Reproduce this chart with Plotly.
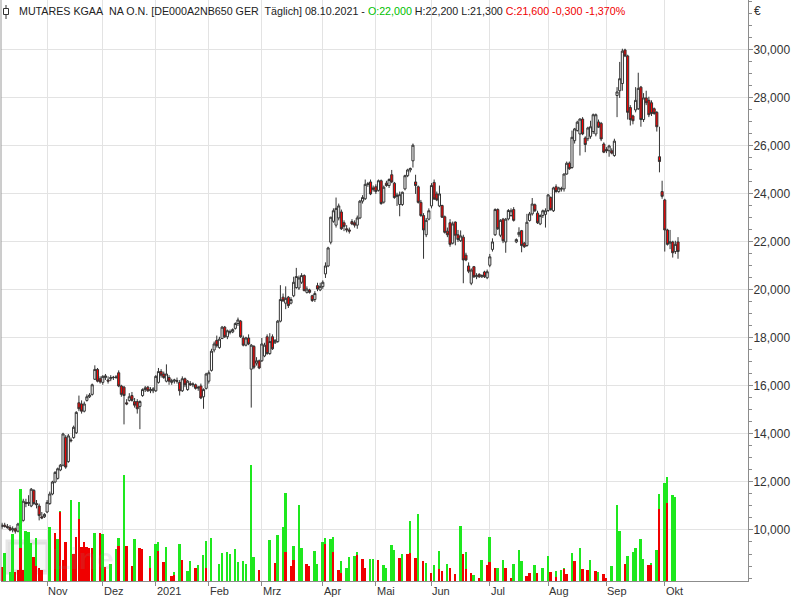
import pandas as pd
import plotly.graph_objects as go

holidays = ["2020-12-24", "2020-12-25", "2020-12-31", "2021-01-01", "2021-04-02", "2021-04-05"]
dates = pd.bdate_range("2020-10-08", "2021-10-08", freq="C", holidays=holidays).strftime("%Y-%m-%d").tolist()

opens = [
    10.15, 10.20, 10.15, 10.10, 10.00, 10.05, 9.95, 10.30, 10.40, 11.15, 11.10, 11.00, 11.65, 11.10, 11.00, 10.55, 10.55,
    10.75, 11.10, 11.50, 12.00, 12.15, 12.50, 12.70, 13.85, 12.85, 13.75, 13.85, 14.05, 15.30, 15.25, 14.95, 15.40, 15.55, 15.65, 16.28, 16.69, 16.30,
    16.15, 16.35, 16.25, 16.30, 16.35, 16.35, 16.55, 16.00, 15.95, 15.30, 15.40, 15.60, 15.35, 15.35, 15.15, 15.60, 15.85, 15.95, 15.80, 15.80,
    15.80, 16.15, 16.60, 16.50, 16.20, 16.35, 16.15, 16.20, 16.22, 16.15, 15.80, 16.30, 15.85, 16.10, 16.05, 16.05, 15.95, 16.00, 15.55, 15.90,
    16.20, 16.65, 17.50, 17.90, 17.60, 17.98, 18.45, 18.05, 18.25, 18.25, 18.40, 18.60, 18.70, 18.00, 17.70, 18.00, 16.70, 17.65, 16.95, 17.05,
    17.05, 17.25, 18.05, 17.35, 18.05, 17.80, 17.85, 18.70, 19.70, 19.45, 19.70, 19.45, 19.76, 20.10, 20.08, 20.32, 20.60, 19.90, 20.00, 19.76, 19.60, 20.18, 20.00,
    20.14, 20.67, 21.00, 21.99, 22.86, 22.70, 23.00, 23.25, 22.80, 22.55, 22.50, 22.85, 22.80, 22.70, 23.00, 23.70, 23.80, 24.40, 24.50, 24.25,
    24.30, 24.15, 24.55, 23.66, 24.45, 24.35, 24.80, 24.45, 23.90, 23.56, 23.56, 24.21, 24.76, 25.00, 25.38, 24.50, 24.30, 23.65, 23.10, 22.30, 22.95,
    23.50, 24.48, 24.00, 23.50, 23.52, 23.05, 22.45, 22.80, 21.95, 22.83, 22.30, 22.05, 22.20, 21.45, 21.00, 20.28, 20.97, 20.55, 20.65, 20.55, 20.75, 20.51,
    21.03, 21.69, 22.30, 23.35, 22.28, 22.95, 22.00, 22.96, 23.10, 23.35, 22.00, 22.30, 22.47, 21.95, 21.85, 22.89, 23.17, 23.55, 23.20, 22.75, 23.10, 23.15,
    23.31, 23.85, 23.30, 24.30, 24.10, 24.20, 24.21, 24.83, 25.28, 25.10, 26.22, 26.64, 26.50, 27.12, 26.33, 26.30, 26.40, 26.60, 26.50, 27.00, 26.94, 26.08,
    25.85, 25.80, 25.80, 25.60, 28.10, 28.30, 28.60, 30.00, 29.75, 27.60, 27.25, 27.50, 27.55, 28.45, 27.10, 28.00, 27.90, 27.80, 27.55, 27.40, 25.55, 24.10,
    23.75, 22.50, 21.95, 22.00, 21.60, 22.00,
]
highs = [
    10.30, 10.30, 10.25, 10.20, 10.15, 10.10, 10.30, 10.60, 11.30, 11.30, 11.45, 11.75, 11.70, 11.25, 11.10, 10.75, 10.70,
    11.25, 11.60, 12.05, 12.45, 12.60, 12.75, 14.05, 13.95, 14.00, 13.85, 14.35, 14.95, 15.60, 15.40, 15.35, 15.65, 15.70, 16.10, 16.86, 16.75, 16.40,
    16.45, 16.50, 16.40, 16.45, 16.42, 16.45, 16.65, 16.05, 16.00, 15.45, 15.70, 15.75, 15.50, 15.45, 15.40, 15.90, 16.00, 16.00, 15.95, 15.95,
    16.45, 16.75, 16.70, 16.60, 16.90, 16.45, 16.30, 16.30, 16.35, 16.25, 16.40, 16.35, 16.25, 16.20, 16.15, 16.10, 16.00, 16.10, 15.90, 16.55,
    16.65, 17.55, 17.85, 18.10, 18.05, 18.50, 18.50, 18.35, 18.35, 18.40, 18.65, 18.85, 18.75, 18.10, 18.05, 18.15, 17.75, 17.70, 17.20, 17.10,
    18.00, 17.80, 18.15, 18.20, 18.15, 17.95, 18.75, 20.20, 19.85, 20.15, 19.75, 19.70, 20.55, 20.92, 20.60, 20.70, 20.65, 20.15, 20.05, 19.80, 19.95, 20.30, 20.30,
    20.40, 21.15, 21.80, 23.05, 23.40, 23.85, 23.60, 23.35, 22.90, 22.70, 22.60, 22.95, 22.90, 23.10, 23.75, 23.95, 24.60, 24.50, 24.60, 24.35,
    24.40, 24.60, 24.60, 24.35, 24.55, 24.65, 25.00, 24.50, 24.05, 24.10, 24.10, 24.80, 25.05, 25.10, 26.10, 24.80, 24.35, 23.75, 23.20, 23.00, 23.40,
    24.45, 24.60, 24.10, 24.35, 23.55, 23.10, 22.60, 22.95, 22.85, 22.85, 22.50, 22.48, 22.30, 21.55, 21.15, 20.90, 21.00, 20.70, 20.70, 20.65, 20.80, 20.85,
    21.50, 22.15, 23.40, 23.40, 22.95, 23.00, 23.00, 23.37, 23.40, 23.45, 22.15, 22.61, 22.50, 22.00, 23.17, 23.25, 23.83, 23.60, 23.30, 23.15, 23.35, 23.40,
    24.00, 23.90, 24.30, 24.40, 24.30, 24.30, 24.85, 25.35, 25.35, 26.64, 26.75, 27.05, 27.15, 27.20, 26.40, 26.80, 27.05, 27.35, 27.35, 27.10, 27.00, 26.15,
    25.95, 26.05, 25.90, 26.30, 28.45, 29.50, 30.05, 30.05, 29.80, 27.70, 27.30, 28.45, 29.05, 28.50, 28.20, 28.30, 28.05, 27.90, 27.60, 27.45, 26.80, 24.55,
    23.80, 22.55, 22.50, 22.05, 22.05, 22.20,
]
lows = [
    10.05, 10.10, 10.05, 9.95, 9.90, 9.85, 9.90, 10.25, 10.35, 10.95, 11.00, 10.95, 11.05, 10.90, 10.40, 10.45, 10.50,
    10.70, 11.05, 11.45, 11.95, 12.10, 12.45, 12.65, 12.55, 12.80, 13.65, 13.80, 14.00, 14.95, 14.85, 14.90, 15.35, 15.50, 15.60, 16.25, 16.15, 16.10,
    16.05, 16.25, 16.10, 16.20, 16.25, 16.30, 15.95, 15.55, 14.40, 15.20, 15.35, 15.35, 15.10, 14.85, 14.20, 15.55, 15.75, 15.75, 15.70, 15.70,
    15.75, 16.10, 16.35, 16.30, 16.15, 16.05, 16.05, 16.10, 16.10, 15.60, 15.75, 15.95, 15.80, 16.00, 15.95, 15.85, 15.80, 15.45, 15.05, 15.85,
    16.10, 16.60, 17.40, 17.60, 17.55, 17.95, 18.00, 17.95, 18.15, 18.20, 18.35, 18.50, 18.00, 17.65, 17.65, 17.70, 15.10, 16.70, 16.85, 16.70,
    17.00, 17.20, 17.30, 17.30, 17.50, 17.75, 17.80, 18.65, 19.50, 19.20, 19.25, 19.40, 19.70, 20.05, 20.00, 20.25, 19.95, 19.85, 19.85, 19.50, 19.50, 19.95, 19.95,
    20.05, 20.50, 20.95, 21.90, 22.80, 22.60, 22.90, 22.50, 22.45, 22.40, 22.35, 22.70, 22.60, 22.55, 22.95, 23.60, 23.75, 24.30, 23.95, 24.10,
    24.00, 24.10, 23.55, 23.60, 24.30, 24.25, 24.45, 23.80, 23.50, 23.07, 23.50, 24.15, 24.70, 24.90, 25.10, 24.00, 23.60, 23.05, 21.30, 22.20, 22.90,
    23.40, 23.75, 23.70, 23.45, 23.00, 22.35, 22.20, 21.80, 21.90, 21.86, 22.00, 22.00, 20.28, 21.20, 20.70, 20.20, 20.50, 20.45, 20.50, 20.50, 20.50, 20.45,
    20.95, 21.60, 22.25, 22.50, 22.20, 21.95, 21.55, 22.90, 23.05, 22.85, 21.95, 22.20, 21.57, 21.75, 21.80, 22.85, 23.10, 23.25, 22.75, 22.70, 23.00, 22.60,
    23.25, 23.30, 23.25, 24.05, 24.05, 24.10, 24.10, 24.80, 25.00, 25.05, 26.10, 26.60, 25.60, 26.45, 25.74, 26.20, 26.30, 26.50, 26.40, 26.75, 26.20, 25.70,
    25.70, 25.55, 25.65, 25.55, 27.20, 28.00, 28.30, 29.70, 27.10, 26.85, 26.90, 27.40, 27.50, 26.80, 27.00, 27.70, 27.20, 27.25, 27.30, 26.60, 24.90, 23.80,
    21.60, 21.85, 21.70, 21.35, 21.50, 21.30,
]
closes = [
    10.20, 10.15, 10.10, 10.00, 10.05, 9.95, 10.25, 10.45, 11.20, 11.10, 11.15, 11.70, 11.10, 11.05, 10.60, 10.50, 10.65,
    11.15, 11.50, 12.00, 12.40, 12.55, 12.70, 14.00, 12.62, 13.92, 13.72, 14.28, 14.90, 15.05, 14.95, 15.25, 15.55, 15.62, 16.05, 16.69, 16.20, 16.17,
    16.40, 16.42, 16.20, 16.35, 16.36, 16.37, 16.00, 15.65, 15.60, 15.25, 15.55, 15.40, 15.20, 15.05, 15.35, 15.85, 15.92, 15.80, 15.85, 15.88,
    16.40, 16.60, 16.45, 16.35, 16.50, 16.20, 16.22, 16.25, 16.20, 15.80, 16.30, 16.05, 16.20, 16.05, 16.08, 15.90, 15.92, 15.50, 15.85, 16.50,
    16.55, 17.45, 17.75, 17.68, 17.95, 18.45, 18.05, 18.30, 18.25, 18.35, 18.60, 18.75, 18.05, 17.70, 18.00, 17.75, 17.70, 16.78, 17.05, 16.75,
    17.75, 17.70, 17.35, 17.85, 17.55, 17.90, 18.70, 19.60, 19.55, 19.65, 19.35, 19.60, 20.32, 20.56, 20.50, 20.60, 19.97, 20.04, 19.90, 19.56, 19.85, 20.04, 20.15,
    20.32, 21.00, 21.75, 23.03, 23.30, 23.40, 23.50, 22.55, 22.65, 22.50, 22.45, 22.75, 22.70, 23.00, 23.70, 23.85, 24.40, 24.42, 24.00, 24.20,
    24.10, 24.55, 23.60, 24.28, 24.35, 24.60, 24.50, 23.85, 23.95, 23.97, 24.07, 24.76, 25.00, 25.06, 26.03, 24.35, 23.65, 23.10, 22.50, 22.90, 23.30,
    24.35, 23.79, 23.75, 24.00, 23.03, 22.40, 22.30, 21.90, 22.75, 22.28, 22.10, 22.25, 21.25, 21.25, 20.78, 20.83, 20.55, 20.60, 20.55, 20.60, 20.55, 20.76,
    21.38, 22.00, 23.35, 22.55, 22.90, 22.05, 22.95, 23.31, 23.30, 22.90, 22.10, 22.40, 21.85, 21.80, 22.82, 23.17, 23.58, 23.30, 22.80, 23.10, 23.30, 23.30,
    23.96, 23.35, 24.25, 24.10, 24.25, 24.22, 24.83, 25.28, 25.05, 26.36, 26.71, 26.99, 27.12, 26.50, 26.06, 26.75, 26.80, 27.30, 27.30, 26.78, 26.29, 25.74,
    25.80, 26.00, 25.70, 26.20, 28.25, 28.80, 29.95, 29.75, 27.40, 27.10, 27.05, 27.90, 28.40, 27.10, 28.00, 27.80, 27.30, 27.35, 27.35, 26.80, 25.35, 23.90,
    22.50, 21.90, 22.00, 21.55, 21.90, 21.60,
]

# volume split (down part drawn red at the bottom, up part green on top), in chart units
vol_down = [
    14, 0, 0, 0, 0, 9, 11, 33, 11, 0, 0, 0, 24, 15, 13, 11, 0,
    0, 0, 0, 48, 0, 69, 21, 39, 0, 0, 27, 44, 62, 34, 39, 34, 33, 33, 0, 0, 48,
    0, 14, 0, 0, 0, 0, 35, 0, 0, 35, 0, 15, 0, 0, 33, 32, 0, 0, 13, 0,
    0, 30, 0, 19, 0, 0, 5, 6, 0, 0, 21, 0, 0, 0, 0, 13, 0, 0, 0, 13,
    0, 0, 0, 0, 0, 0, 0, 0, 0, 0, 0, 0, 0, 0, 0, 0, 0, 0, 0, 11,
    0, 0, 0, 0, 0, 18, 0, 0, 0, 29, 0, 15, 21, 0, 0, 0, 0, 17, 15, 0, 0, 0, 0,
    0, 37, 0, 0, 29, 0, 11, 8, 0, 0, 0, 0, 0, 26, 0, 22, 13, 0, 0, 0,
    0, 21, 0, 0, 0, 0, 0, 0, 0, 23, 0, 0, 27, 28, 0, 23, 0, 0, 20, 0, 0,
    8, 0, 0, 12, 10, 0, 0, 13, 0, 7, 0, 0, 27, 12, 0, 8, 0, 0, 3, 0, 0, 16,
    19, 0, 13, 0, 0, 0, 13, 0, 3, 0, 0, 0, 0, 0, 5, 8, 0, 0, 8, 0, 0, 0,
    0, 9, 0, 4, 0, 0, 12, 7, 0, 0, 20, 0, 0, 12, 0, 11, 0, 0, 10, 0, 0, 7,
    3, 0, 0, 0, 0, 0, 0, 17, 0, 0, 0, 0, 0, 0, 0, 0, 16, 16, 0, 0, 72, 0,
    0, 78, 0, 0, 0, 0,
]
vol_up = [
    0, 28, 0, 9, 47, 0, 0, 59, 0, 50, 49, 38, 0, 28, 0, 0, 0,
    0, 54, 0, 0, 42, 1, 0, 0, 0, 81, 0, 0, 17, 0, 0, 0, 0, 0, 48, 0, 0,
    47, 0, 0, 17, 0, 32, 8, 0, 106, 0, 0, 0, 42, 0, 0, 0, 0, 0, 12, 0,
    37, 9, 0, 0, 34, 0, 0, 3, 0, 37, 0, 0, 10, 20, 0, 0, 16, 0, 26, 27,
    0, 43, 0, 0, 17, 28, 0, 29, 27, 0, 32, 19, 0, 20, 17, 0, 116, 24, 0, 0,
    0, 0, 0, 41, 0, 0, 46, 0, 54, 59, 0, 0, 14, 0, 76, 33, 0, 0, 0, 0, 30, 17, 0,
    39, 6, 0, 42, 15, 0, 0, 12, 0, 13, 24, 0, 25, 3, 0, 0, 0, 0, 22, 22,
    0, 0, 0, 16, 13, 0, 36, 31, 0, 0, 27, 0, 0, 32, 0, 0, 67, 0, 0, 18, 0,
    0, 16, 0, 18, 0, 0, 17, 0, 0, 0, 0, 55, 0, 17, 0, 0, 6, 0, 0, 21, 0, 0,
    25, 0, 0, 13, 0, 21, 0, 0, 0, 17, 0, 31, 20, 0, 0, 0, 0, 16, 0, 0, 13, 0,
    25, 0, 0, 6, 0, 11, 1, 0, 0, 28, 0, 0, 33, 0, 0, 0, 21, 0, 0, 9, 0, 0,
    0, 0, 15, 0, 76, 50, 0, 0, 25, 0, 29, 33, 0, 42, 22, 0, 0, 2, 0, 31, 15, 0,
    98, 26, 0, 86, 84, 0,
]

month_starts = ["2020-11-02", "2020-12-01", "2021-01-04", "2021-02-01", "2021-03-01", "2021-04-01",
                "2021-05-03", "2021-06-01", "2021-07-01", "2021-08-02", "2021-09-01", "2021-10-01"]
month_labels = ["Nov", "Dez", "2021", "Feb", "Mrz", "Apr", "Mai", "Jun", "Jul", "Aug", "Sep", "Okt"]
price_ticks = [10, 12, 14, 16, 18, 20, 22, 24, 26, 28, 30]

GRID = "#e3e3e3"
AXIS = "#8c8c8c"
TXT = "#333333"

fig = go.Figure()
fig.add_trace(go.Bar(x=dates, y=vol_down, marker=dict(color="#f00000", line=dict(width=0)), yaxis="y2", hoverinfo="skip"))
fig.add_trace(go.Bar(x=dates, y=vol_up, marker=dict(color="#1ee81e", line=dict(width=0)), yaxis="y2", hoverinfo="skip"))
fig.add_trace(go.Candlestick(
    x=dates, open=opens, high=highs, low=lows, close=closes,
    increasing=dict(line=dict(color="#333333", width=1), fillcolor="#ffffff"),
    decreasing=dict(line=dict(color="#333333", width=1), fillcolor="#ff0000"),
    whiskerwidth=0,
))

annotations = []
for d, lab in zip(month_starts, month_labels):
    annotations.append(dict(x=d, y=0, xref="x", yref="paper", text=lab, showarrow=False,
                            xanchor="left", yanchor="top", xshift=-1, yshift=-2,
                            font=dict(size=11, color=TXT, family="Liberation Sans")))

header = ("MUTARES KGAA\u00a0 NA O.N. [DE000A2NB650 GER\u00a0 T\u00e4glich] 08.10.2021 - "
          "<span style='color:#00c000'>O:22,000</span> H:22,200 L:21,300 "
          "<span style='color:#f00000'>C:21,600 -0,300 -1,370%</span>")
annotations.append(dict(x=0, y=1, xref="paper", yref="paper", text=header, showarrow=False,
                        xanchor="left", yanchor="top", xshift=16, yshift=-3,
                        font=dict(size=10.7, color="#222222", family="Liberation Sans")))
annotations.append(dict(x=1, y=1, xref="paper", yref="paper", text="\u20ac", showarrow=False,
                        xanchor="left", yanchor="top", xshift=4, yshift=-2,
                        font=dict(size=12, color=TXT, family="Liberation Sans")))
# faint watermark text
annotations.append(dict(x=0.0656, y=0.038, xref="paper", yref="paper", text="<b>Line</b>", showarrow=False,
                        xanchor="left", yanchor="middle",
                        font=dict(size=30, color="rgba(140,140,140,0.16)", family="Liberation Sans")))

shapes = [
    dict(type="line", xref="paper", yref="paper", x0=0, x1=0, y0=0, y1=1, line=dict(color="#9a9a9a", width=1)),
    # small candle icon in the header
    dict(type="line", xref="paper", yref="paper", xsizemode="pixel", ysizemode="pixel", xanchor=0, yanchor=1,
         x0=5, x1=5, y0=-5, y1=-19, line=dict(color="#333333", width=1)),
    dict(type="rect", xref="paper", yref="paper", xsizemode="pixel", ysizemode="pixel", xanchor=0, yanchor=1,
         x0=2.5, x1=7.5, y0=-8.5, y1=-14.5, line=dict(color="#333333", width=1), fillcolor="white"),
    # faint watermark logo square
    dict(type="rect", xref="paper", yref="paper", x0=0.0094, x1=0.0629, y0=0.0155, y1=0.0671, layer="below",
         line=dict(color="rgba(140,140,140,0.22)", width=5), fillcolor="rgba(140,140,140,0.06)"),
]

fig.update_layout(
    width=800, height=600,
    margin=dict(l=1, r=52, t=0, b=19),
    paper_bgcolor="white", plot_bgcolor="white",
    showlegend=False, barmode="stack", bargap=0.3,
    boxgap=0.2, boxgroupgap=0,
    separators=",.",
    font=dict(family="Liberation Sans", size=11, color=TXT),
    annotations=annotations, shapes=shapes,
    xaxis=dict(type="category", range=[-0.4, 281.4], rangeslider=dict(visible=False),
               tickmode="array", tickvals=month_starts, ticktext=[""] * len(month_starts),
               showgrid=True, gridcolor=GRID, gridwidth=1,
               showline=True, linecolor=AXIS, linewidth=1,
               ticks="outside", ticklen=4, tickcolor=AXIS, zeroline=False, fixedrange=True),
    yaxis=dict(side="right", range=[7.875, 32.08], tickmode="array", tickvals=price_ticks,
               tickformat=".3f", showgrid=True, gridcolor=GRID, gridwidth=1,
               showline=True, linecolor=AXIS, linewidth=1,
               ticks="outside", ticklen=4, tickcolor=AXIS, ticklabelstandoff=-2,
               minor=dict(dtick=0.5, tick0=0, ticks="outside", ticklen=3, tickcolor=AXIS, showgrid=False),
               tickfont=dict(size=12, color=TXT), zeroline=False, fixedrange=True),
    yaxis2=dict(overlaying="y", range=[0, 581], visible=False, fixedrange=True),
)

fig.write_html(
    "out.html",
    config={"displayModeBar": False},
    post_script="document.body.style.margin='0px';document.body.style.padding='0px';document.body.style.overflow='hidden';",
)
